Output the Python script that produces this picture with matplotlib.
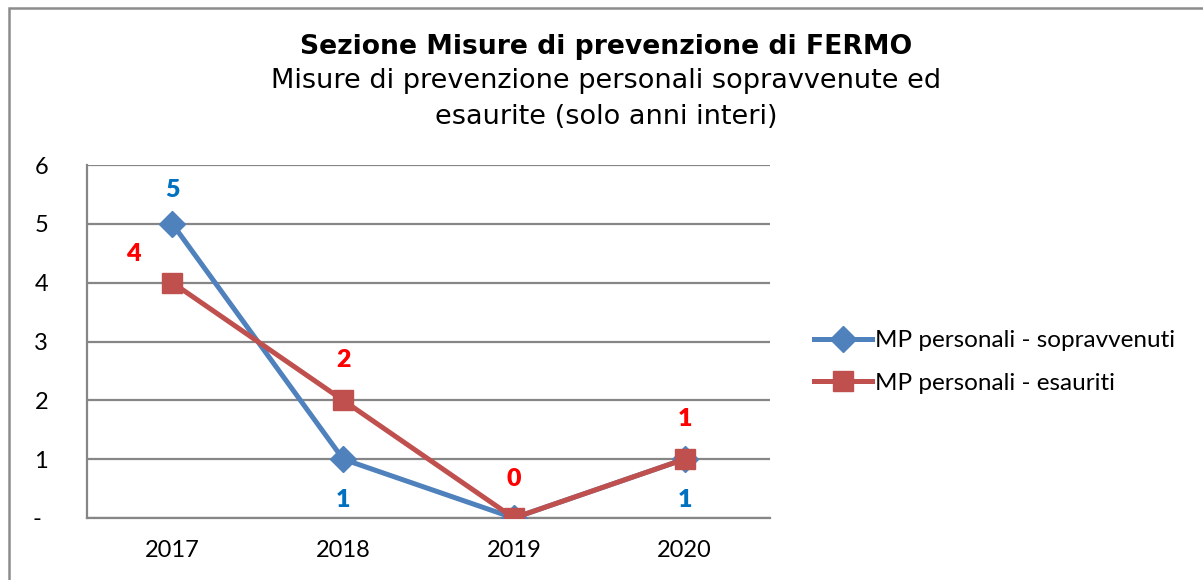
import matplotlib.pyplot as plt
from matplotlib.patches import Rectangle

# data
years = ["2017", "2018", "2019", "2020"]
sopravvenuti = [5, 1, 0, 1]
esauriti = [4, 2, 0, 1]
y_ticks = [0, 1, 2, 3, 4, 5, 6]
y_labels = ["- ", "1", "2", "3", "4", "5", "6"]

# which labels are drawn, and their offsets in pixels
lab_sop = {0: (0, 34), 1: (0, -41), 3: (0, -41)}
lab_esa = {0: (-39, 29), 1: (0, 40), 2: (0, 39), 3: (0, 40)}

plt.rcParams['font.family'] = ['Lato', 'DejaVu Sans']

fig = plt.figure(figsize=(12.03, 5.8), dpi=100)
ax = fig.add_axes([87/1203, 1 - 518/580, (770 - 87)/1203, (518 - 165)/580])

# outer chart frame
fig.patches.append(Rectangle((9/1203, -0.05), 1.1, 1 - 8/580 + 0.05,
                             transform=fig.transFigure, fill=False,
                             edgecolor="#8c8c8c", linewidth=1.8))

x = list(range(len(years)))
ax.plot(x, sopravvenuti, color="#4F81BD", linewidth=3.6, marker="D",
        markersize=13, label="MP personali - sopravvenuti", zorder=3)
ax.plot(x, esauriti, color="#C0504D", linewidth=3.6, marker="s",
        markersize=15, label="MP personali - esauriti", zorder=4)

for i, (dx, dy) in lab_sop.items():
    ax.annotate(str(sopravvenuti[i]), (x[i], sopravvenuti[i]), xytext=(dx, dy),
                textcoords="offset pixels", ha="center", va="center",
                color="#0070C0", fontsize=18, fontweight="heavy")
for i, (dx, dy) in lab_esa.items():
    ax.annotate(str(esauriti[i]), (x[i], esauriti[i]), xytext=(dx, dy),
                textcoords="offset pixels", ha="center", va="center",
                color="#FF0000", fontsize=18, fontweight="heavy")

ax.set_xlim(-0.5, 3.5)
ax.set_ylim(0, 6)
ax.set_xticks(x)
ax.set_xticklabels(years)
ax.set_yticks(y_ticks)
ax.set_yticklabels(y_labels)
ax.tick_params(axis="both", length=0, labelsize=17)
ax.tick_params(axis="y", pad=28)
ax.tick_params(axis="x", pad=16)
ax.grid(axis="y", color="#868686", linewidth=1.6)
ax.set_axisbelow(True)
for s in ["top", "right"]:
    ax.spines[s].set_visible(False)
for s in ["left", "bottom"]:
    ax.spines[s].set_color("#868686")
    ax.spines[s].set_linewidth(1.6)

leg = fig.legend(loc="center left", bbox_to_anchor=(792/1203, 1 - 362/580),
                 frameon=False, fontsize=17.5, handlelength=2.4,
                 labelspacing=0.9, handletextpad=0.1)

fig.text(606/1203, 1 - 47/580, "Sezione Misure di prevenzione di FERMO",
         ha="center", va="center", fontsize=19.2, fontweight="bold",
         family="DejaVu Sans")
fig.text(606/1203, 1 - 81/580, "Misure di prevenzione personali sopravvenute ed",
         ha="center", va="center", fontsize=19.5, family="DejaVu Sans")
fig.text(606/1203, 1 - 117/580, "esaurite (solo anni interi)",
         ha="center", va="center", fontsize=19.5, family="DejaVu Sans")

fig.savefig("out.png", dpi=100)
